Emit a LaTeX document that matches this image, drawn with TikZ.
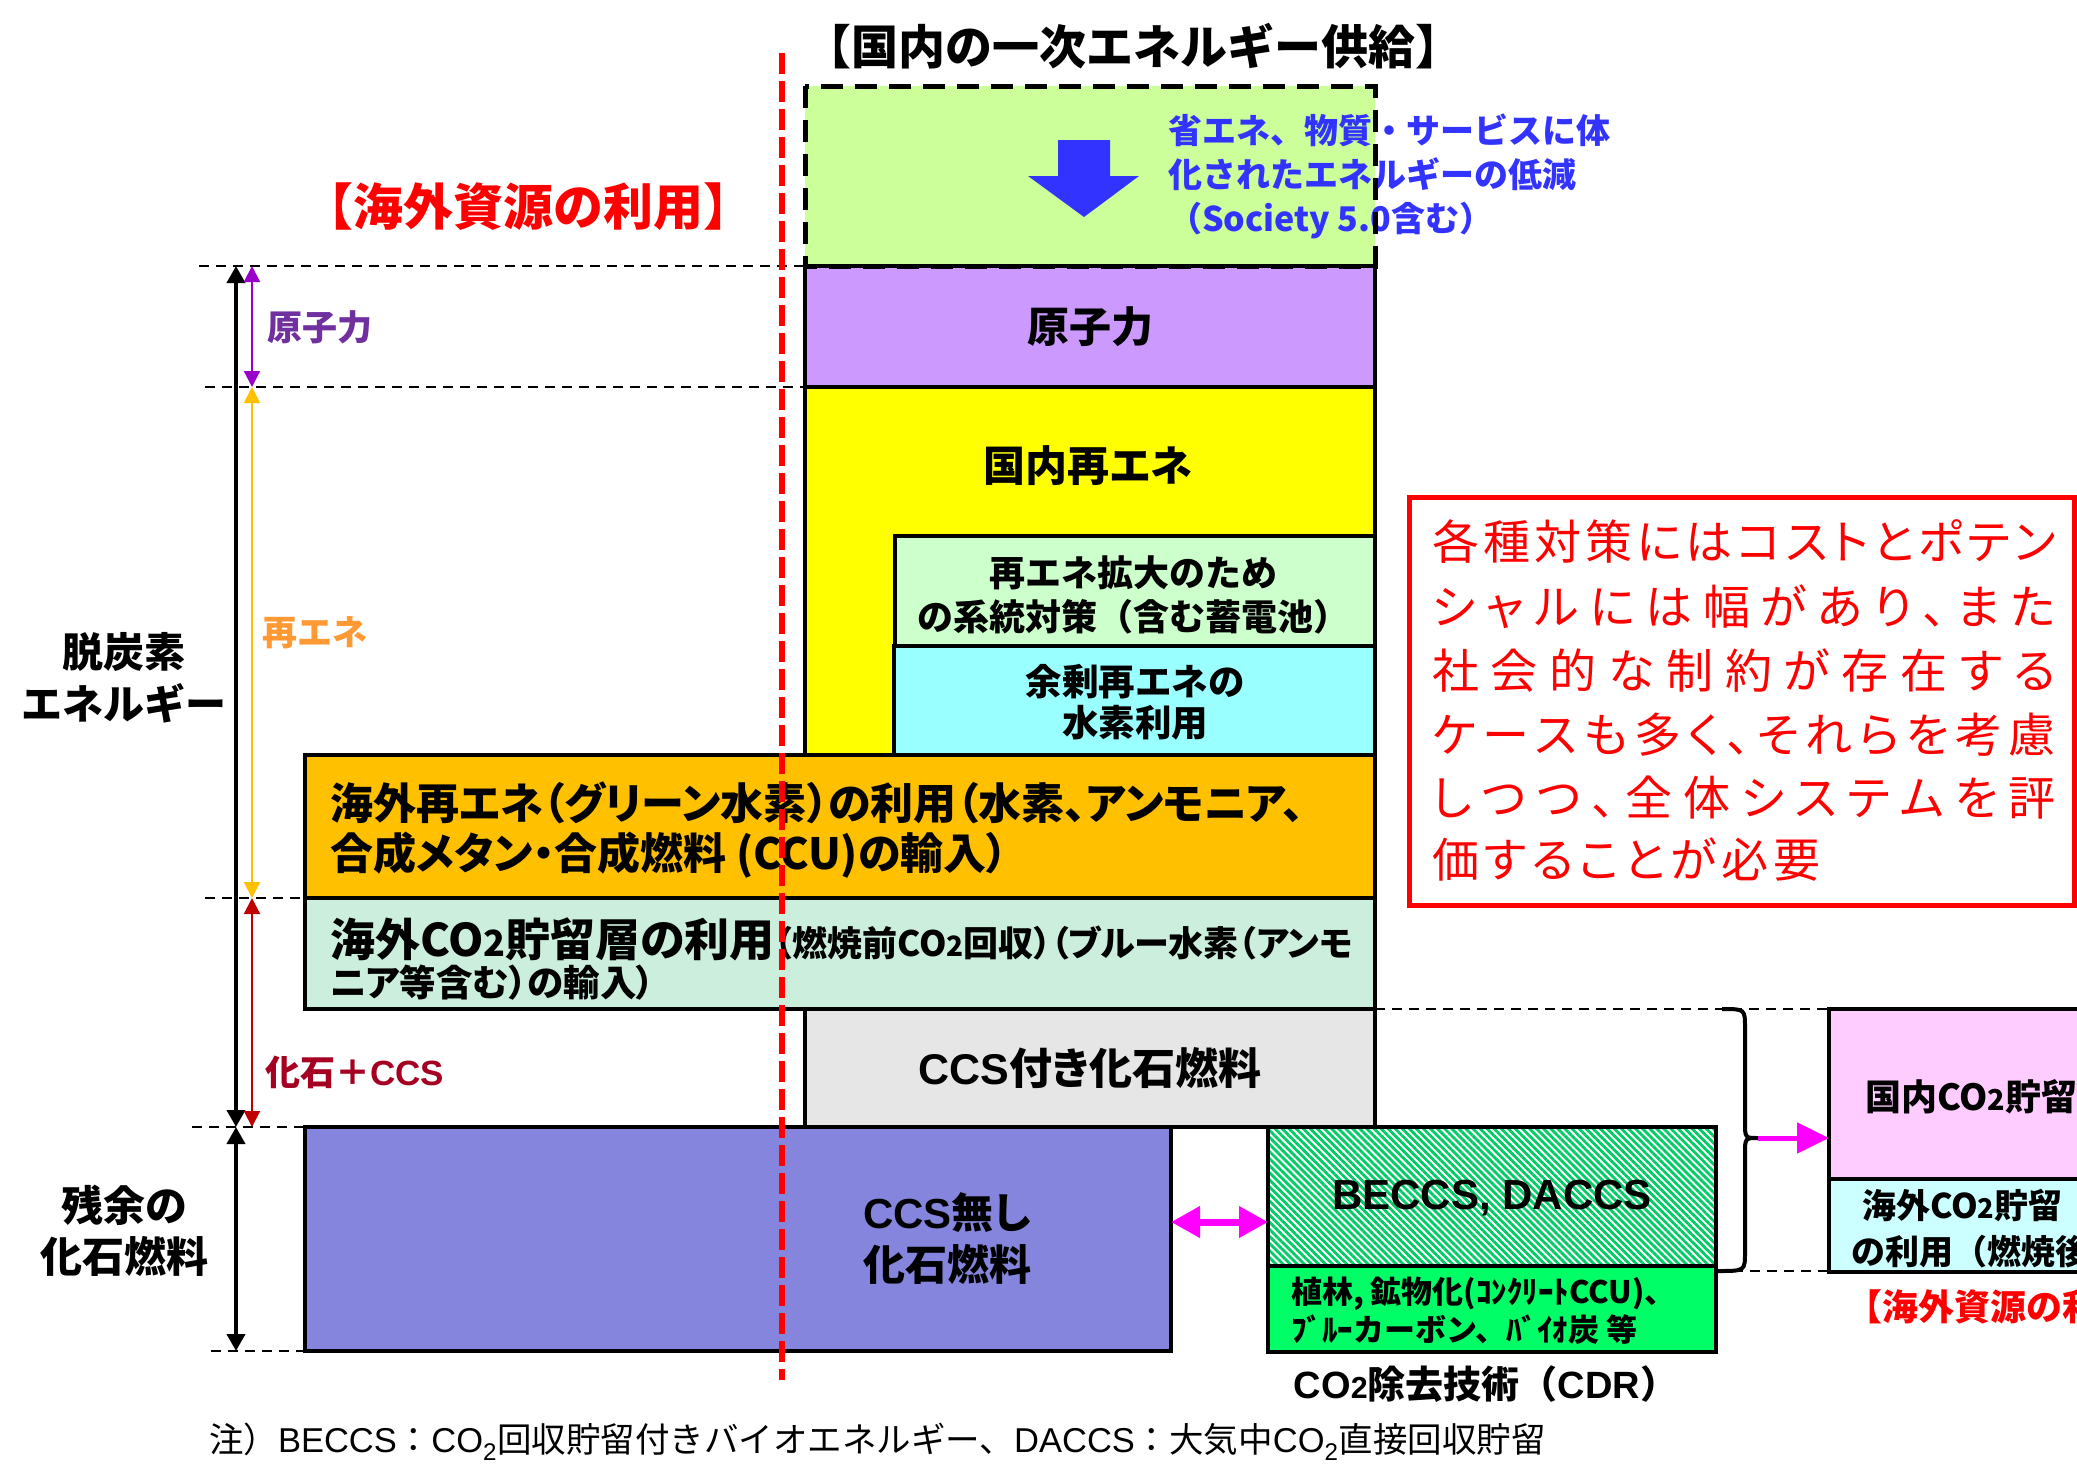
\documentclass[tikz,border=0pt]{standalone}
\usepackage{fontspec}
\usepackage{graphicx}
\setmainfont{Noto Sans CJK JP}[RawFeature=+palt]
\newfontfamily\jm{Noto Sans CJK JP}
\newfontfamily\arial{Liberation Sans}
\usetikzlibrary{arrows.meta,patterns.meta}
\definecolor{gboxf}{HTML}{CCFF99}
\definecolor{nucf}{HTML}{CC99FF}
\definecolor{yelf}{HTML}{FFFF00}
\definecolor{gridf}{HTML}{CCFFCC}
\definecolor{hydf}{HTML}{99FFFF}
\definecolor{orngf}{HTML}{FFC000}
\definecolor{bluehf}{HTML}{CCEEDD}
\definecolor{grayf}{HTML}{E6E6E6}
\definecolor{ccsnof}{HTML}{8585DD}
\definecolor{hatchg}{HTML}{00CC66}
\definecolor{cdrf}{HTML}{00FF66}
\definecolor{pinkf}{HTML}{FFCCFF}
\definecolor{lcyanf}{HTML}{CCFFFF}
\definecolor{bluet}{HTML}{3333FF}
\definecolor{lpurple}{HTML}{7030A0}
\definecolor{apurple}{HTML}{9900CC}
\definecolor{lorange}{HTML}{FF9933}
\definecolor{aorange}{HTML}{FFC000}
\definecolor{ldred}{HTML}{A50021}
\definecolor{adred}{HTML}{C00000}
\definecolor{magt}{HTML}{FF00FF}
\definecolor{redt}{HTML}{FF0000}
\makeatletter
\newcommand\spreadline[2]{\hbox to #1{\@tfor\sp@c:=#2\do{\sp@c\hfil}\unskip}}
\makeatother
\newcommand\COt{CO\scalebox{0.8}{2}}
\newcommand\COa{{\arial CO\scalebox{0.8}{2}}}
\begin{document}
\begin{tikzpicture}[x=1pt,y=-1pt,
  bx/.style 2 args={draw=black, line width=3.5pt, minimum width=#1, minimum height=#2, anchor=north west, inner sep=0pt, outer sep=0pt},
  lbl/.style={inner sep=0pt, outer sep=0pt, align=center},
  guide/.style={draw=black, line width=2pt, dash pattern=on 10pt off 7pt},
  blk/.style={line width=4pt, black, {Triangle[width=18pt,length=17pt]}-{Triangle[width=18pt,length=17pt]}},
  thinar/.style={line width=2pt, {Triangle[width=16pt,length=16pt]}-{Triangle[width=16pt,length=16pt]}},
  rl/.style={inner sep=0pt, outer sep=0pt, anchor=west, text=redt, font=\fontsize{47}{56}\selectfont}
]
\useasboundingbox (0,0) rectangle (2077,1473);
\fill[white] (0,0) rectangle (2077,1473);
\clip (0,0) rectangle (2077,1473);

% boxes
\node[bx={570pt}{180pt}, fill=gboxf, draw=none] (green) at (805,86) {};
\node[bx={570pt}{121pt}, fill=nucf] (nuc) at (805,266) {};
\node[bx={570pt}{370pt}, fill=yelf] (yel) at (805,387) {};
\node[bx={480pt}{110pt}, fill=gridf] (grid) at (895,536) {};
\node[bx={481pt}{109pt}, fill=hydf] (hyd) at (894,646) {};
\node[bx={1070pt}{143pt}, fill=orngf] (ovs) at (305,755) {};
\node[bx={1070pt}{111pt}, fill=bluehf] (blueh) at (305,898) {};
\node[bx={570pt}{118pt}, fill=grayf] (ccs) at (805,1009) {};
\node[bx={866pt}{224pt}, fill=ccsnof] (ccsno) at (305,1127) {};
\node[bx={448pt}{139pt}, preaction={fill=white}, pattern={Lines[angle=-45,distance=5pt,line width=2.8pt]}, pattern color=hatchg] (beccs) at (1268,1127) {};
\node[bx={448pt}{86pt}, fill=cdrf] (cdr) at (1268,1266) {};
\node[bx={270pt}{170pt}, fill=pinkf] (dstore) at (1829,1009) {};
\node[bx={270pt}{93pt}, fill=lcyanf] (ostore) at (1829,1179) {};
\node[bx={665pt}{408pt}, draw=redt, line width=5pt] (note) at (1409,497) {};

% saving energy area
\fill[bluet] (1058,140) -- (1110,140) -- (1110,176) -- (1139,176) -- (1084,217) -- (1028,176) -- (1058,176) -- cycle;
\node[lbl, anchor=west, align=left, text=bluet, font=\jm\fontsize{34}{44}\selectfont\bfseries] (save) at (1168,176) {省エネ、物質・サービスに体\\化されたエネルギーの低減\\（Society 5.0含む）};
\draw[line width=5pt, dash pattern=on 22pt off 12pt] (green.north west) rectangle (green.south east);

% titles
\node[lbl, font=\jm\fontsize{47}{56}\selectfont\bfseries] (title) at (1133,46) {【国内の一次エネルギー供給】};
\node[lbl, text=redt, font=\jm\fontsize{50}{56}\selectfont\bfseries] (ovsres) at (528,207) {【海外資源の利用】};

% box texts
\node[lbl, font=\fontsize{42}{50}\selectfont\bfseries] (tnuc) at (nuc.center) {原子力};
\node[lbl, font=\fontsize{42}{50}\selectfont\bfseries] (tyel) at (1088,466) {国内再エネ};
\node[lbl, font=\jm\fontsize{36}{44}\selectfont\bfseries] (tgrid) at (1133,595) {再エネ拡大のため\\の系統対策（含む蓄電池）};
\node[lbl, font=\jm\fontsize{36.5}{41}\selectfont\bfseries] (thyd) at (1135,702) {余剰再エネの\\水素利用};
\node[lbl, anchor=west, align=left, font=\fontsize{43}{50}\selectfont\bfseries] (tovs) at (330,830) {海外再エネ（グリーン水素）の利用（水素、アンモニア、\\合成メタン・合成燃料 (CCU)の輸入）};
\node[lbl, anchor=west, font=\bfseries] (tbl1) at (330,939) {{\fontsize{45}{50}\selectfont 海外\COt 貯留層の利用}{\fontsize{35}{40}\selectfont （燃焼前\COt 回収）（ブルー水素（アンモ}};
\node[lbl, anchor=west, font=\fontsize{36.5}{40}\selectfont\bfseries] (tbl2) at (330,983) {ニア等含む）の輸入）};
\node[lbl, font=\fontsize{43}{50}\selectfont\bfseries] (tccs) at (ccs.center) {{\arial CCS}付き化石燃料};
\node[lbl, font=\fontsize{42}{52}\selectfont\bfseries] (tccsno) at (947,1239) {{\arial CCS}無し\\化石燃料};
\node[lbl, font=\arial\fontsize{42}{48}\selectfont\bfseries] (tbeccs) at (1492,1198) {BECCS, DACCS};
\node[lbl, anchor=west, align=left, font=\jm\fontsize{31}{38}\selectfont\bfseries] (tcdr) at (1291,1311) {植林, 鉱物化(ｺﾝｸﾘｰﾄCCU)、\\ﾌﾞﾙｰカーボン、ﾊﾞｲｵ炭 等};
\node[lbl, font=\jm\fontsize{38}{44}\selectfont\bfseries] (tcdrlab) at (1486,1384) {\COa 除去技術（{\arial CDR}）};
\node[lbl, anchor=west, font=\jm\fontsize{36}{44}\selectfont\bfseries] (tdst) at (1865,1097) {国内\COt 貯留};
\node[lbl, anchor=west, font=\jm\fontsize{34}{40}\selectfont\bfseries] (tost1) at (1862,1205) {海外\COt 貯留};
\node[lbl, anchor=west, font=\jm\fontsize{34}{40}\selectfont\bfseries] (tost2) at (1851,1252) {の利用（燃焼後};
\node[lbl, anchor=west, text=redt, font=\jm\fontsize{36}{44}\selectfont\bfseries] (tovs2) at (1846,1307) {【海外資源の利};

% note text
\node[rl] (n1) at (1432,542) {\spreadline{624pt}{各種対策にはコストとポテン}};
\node[rl] (n2) at (1432,607) {\spreadline{624pt}{シャルには幅があり、また}};
\node[rl] (n3) at (1432,671) {\spreadline{624pt}{社会的な制約が存在する}};
\node[rl] (n4) at (1432,735) {\spreadline{624pt}{ケースも多く、それらを考慮}};
\node[rl] (n5) at (1432,798) {\spreadline{624pt}{しつつ、全体システムを評}};
\node[rl] (n6) at (1432,860) {\spreadline{388pt}{価することが必要}};

% left labels
\node[lbl, font=\jm\fontsize{41}{52}\selectfont\bfseries] (ldec) at (124,678) {脱炭素\\エネルギー};
\node[lbl, font=\jm\fontsize{42}{51}\selectfont\bfseries] (lres) at (124,1231) {残余の\\化石燃料};
\node[lbl, anchor=west, text=lpurple, font=\jm\fontsize{35}{40}\selectfont\bfseries] (lnuc) at (267,327) {原子力};
\node[lbl, anchor=west, text=lorange, font=\jm\fontsize{35}{40}\selectfont\bfseries] (lre) at (262,633) {再エネ};
\node[lbl, anchor=west, text=ldred, font=\jm\fontsize{35}{40}\selectfont\bfseries] (lfos) at (265,1072) {化石＋{\arial CCS}};

% footnote
\node[lbl, anchor=west, font=\jm\fontsize{34.5}{40}\selectfont] (foot) at (209,1442) {注）{\arial BECCS}：{\arial CO\textsubscript{2}}回収貯留付きバイオエネルギー、{\arial DACCS}：大気中{\arial CO\textsubscript{2}}直接回収貯留};

% guide lines
\draw[guide] (199,266) -- (nuc.north west);
\draw[guide] (205,387) -- (yel.north west);
\draw[guide] (205,898) -- (blueh.north west);
\draw[guide] (192,1127) -- (ccsno.north west);
\draw[guide] (211,1351) -- (395,1351);
\draw[guide] (ccs.north east) -- (dstore.north west);
\draw[guide] (1716,1271) -- (1902,1271);

% side arrows
\coordinate (p0) at (236,266);
\coordinate (p1) at (236,1127);
\coordinate (p2) at (236,1351);
\draw[blk] (p0) -- (p1);
\draw[blk] (p1) -- (p2);
\coordinate (q0) at (252,266);
\coordinate (q1) at (252,387);
\coordinate (q2) at (252,898);
\coordinate (q3) at (252,1127);
\draw[thinar, apurple] (q0) -- (q1);
\draw[thinar, aorange] (q1) -- (q2);
\draw[thinar, adred] (q2) -- (q3);

% magenta arrows and brace
\coordinate (mrow) at (0,1222);
\draw[magt, line width=7pt, {Triangle[length=29pt,width=30pt]}-{Triangle[length=29pt,width=30pt]}] (ccsno.east |- mrow) -- (beccs.west |- mrow);
\coordinate (brtip) at (1758,1138);
\draw[line width=4pt] (1722,1009) .. controls (1745,1009) .. (1745,1028) -- (1745,1122) .. controls (1745,1138) .. (brtip) .. controls (1745,1138) .. (1745,1154) -- (1745,1252) .. controls (1745,1271) .. (1718,1271);
\draw[magt, line width=5pt, -{Triangle[length=32pt,width=30pt]}] (brtip) -- (dstore.west |- brtip);

% red dashed divider
\draw[redt, line width=6pt, dash pattern=on 21pt off 7pt] (782,53) -- (782,1380);
\end{tikzpicture}
\end{document}
